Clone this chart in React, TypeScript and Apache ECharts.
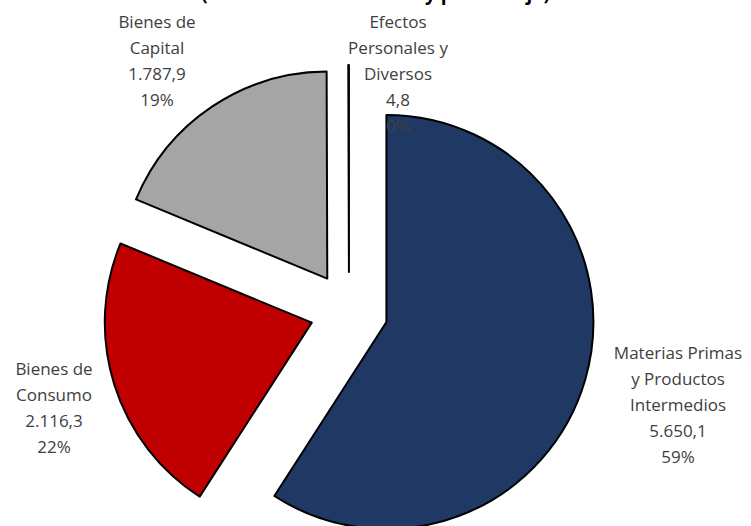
import React, { useEffect, useRef } from "react";
import * as echarts from "echarts";

const TITLE = "(En millones de dólares y porcentaje)";
const categories = [
  "Materias Primas\ny Productos\nIntermedios",
  "Bienes de\nConsumo",
  "Bienes de\nCapital",
  "Efectos\nPersonales y\nDiversos",
];
const values = [5650.1, 2116.3, 1787.9, 4.8];
const colors = ["#1F3864", "#C00000", "#A5A5A5", "#7F7F7F"];
const labelPos: [number, number][] = [
  [678, 339],
  [54, 355],
  [157, 8],
  [398, 8],
];

function fmt(v: number): string {
  const [i, d] = v.toFixed(1).split(".");
  return i.replace(/\B(?=(\d{3})+(?!\d))/g, ".") + "," + d;
}

export default function App() {
  const ref = useRef<HTMLDivElement>(null);
  useEffect(() => {
    document.body.style.margin = "0";
    const chart = echarts.init(ref.current!, null, { renderer: "svg" });
    const total = values.reduce((a, b) => a + b, 0);
    const labels = categories.map((name, i) => ({
      type: "text",
      x: labelPos[i][0],
      y: labelPos[i][1],
      z: 100,
      style: {
        text: `${name}\n${fmt(values[i])}\n${Math.round((values[i] / total) * 100)}%`,
        font: "17px 'Open Sans'",
        lineHeight: 26,
        fill: "#404040",
        align: "center",
        verticalAlign: "top",
      },
    }));
    chart.setOption({
      animation: false,
      backgroundColor: "#ffffff",
      graphic: [
        {
          type: "text",
          left: "center",
          top: -17,
          style: {
            text: TITLE,
            font: "bold 19px 'Open Sans'",
            fill: "#000",
          },
        },
        ...labels,
      ],
      series: [
        {
          type: "pie",
          center: [349, 311],
          radius: 207,
          startAngle: 90,
          clockwise: true,
          selectedMode: "multiple",
          selectedOffset: 39,
          avoidLabelOverlap: false,
          itemStyle: { borderColor: "#000", borderWidth: 2 },
          emphasis: { disabled: true },
          label: { show: false },
          labelLine: { show: false },
          data: categories.map((name, i) => ({
            name,
            value: values[i],
            selected: true,
            itemStyle: { color: colors[i] },
          })),
        },
      ],
    });
    return () => chart.dispose();
  }, []);
  return <div ref={ref} style={{ width: 751, height: 526 }} />;
}
